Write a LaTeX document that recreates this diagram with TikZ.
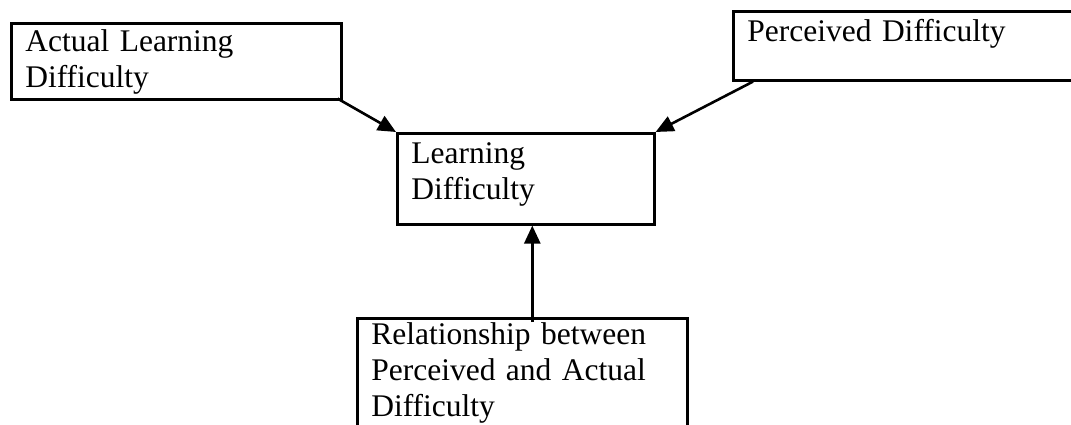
\documentclass[tikz,border=0pt]{standalone}
\usepackage{fontspec}
\setmainfont{Liberation Serif}
\usepackage{tikz}
\usetikzlibrary{arrows.meta}

\begin{document}
\begin{tikzpicture}[x=1pt,y=-1pt]
\tikzstyle{block} = [rectangle, draw=black, line width=2.6pt, anchor=north west, align=left, inner xsep=14pt, inner ysep=0pt, font=\fontsize{31.5}{36}\selectfont]

\tikzstyle{arrow} = [line width=2.6pt,-{Triangle[length=18pt,width=16pt]}]

\useasboundingbox (0,0) rectangle (1071,425);

\node (actual) [block,text width=302pt,text height=28pt,text depth=48pt] at (10,22) {Actual Learning\\Difficulty};
\node (perceived) [block,text width=330pt,text height=30pt,text depth=39pt] at (732,10) {Perceived Difficulty};
\node (learning) [block,text width=229pt,text height=30pt,text depth=61pt] at (396,132) {Learning\\Difficulty};
\node (relation) [block,text width=302pt,text height=26pt,text depth=97pt] at (356,317) {Relationship between\\Perceived and Actual\\Difficulty};

\draw [arrow] ([xshift=-5pt,yshift=2pt]actual.south east) -- (learning.north west);
\draw [arrow] ([xshift=21pt]perceived.south west) -- (learning.north east);
\draw [arrow] ([xshift=10pt,yshift=-5pt]relation.north) -- ([xshift=10pt]relation.north |- learning.south);

\end{tikzpicture}
\end{document}
